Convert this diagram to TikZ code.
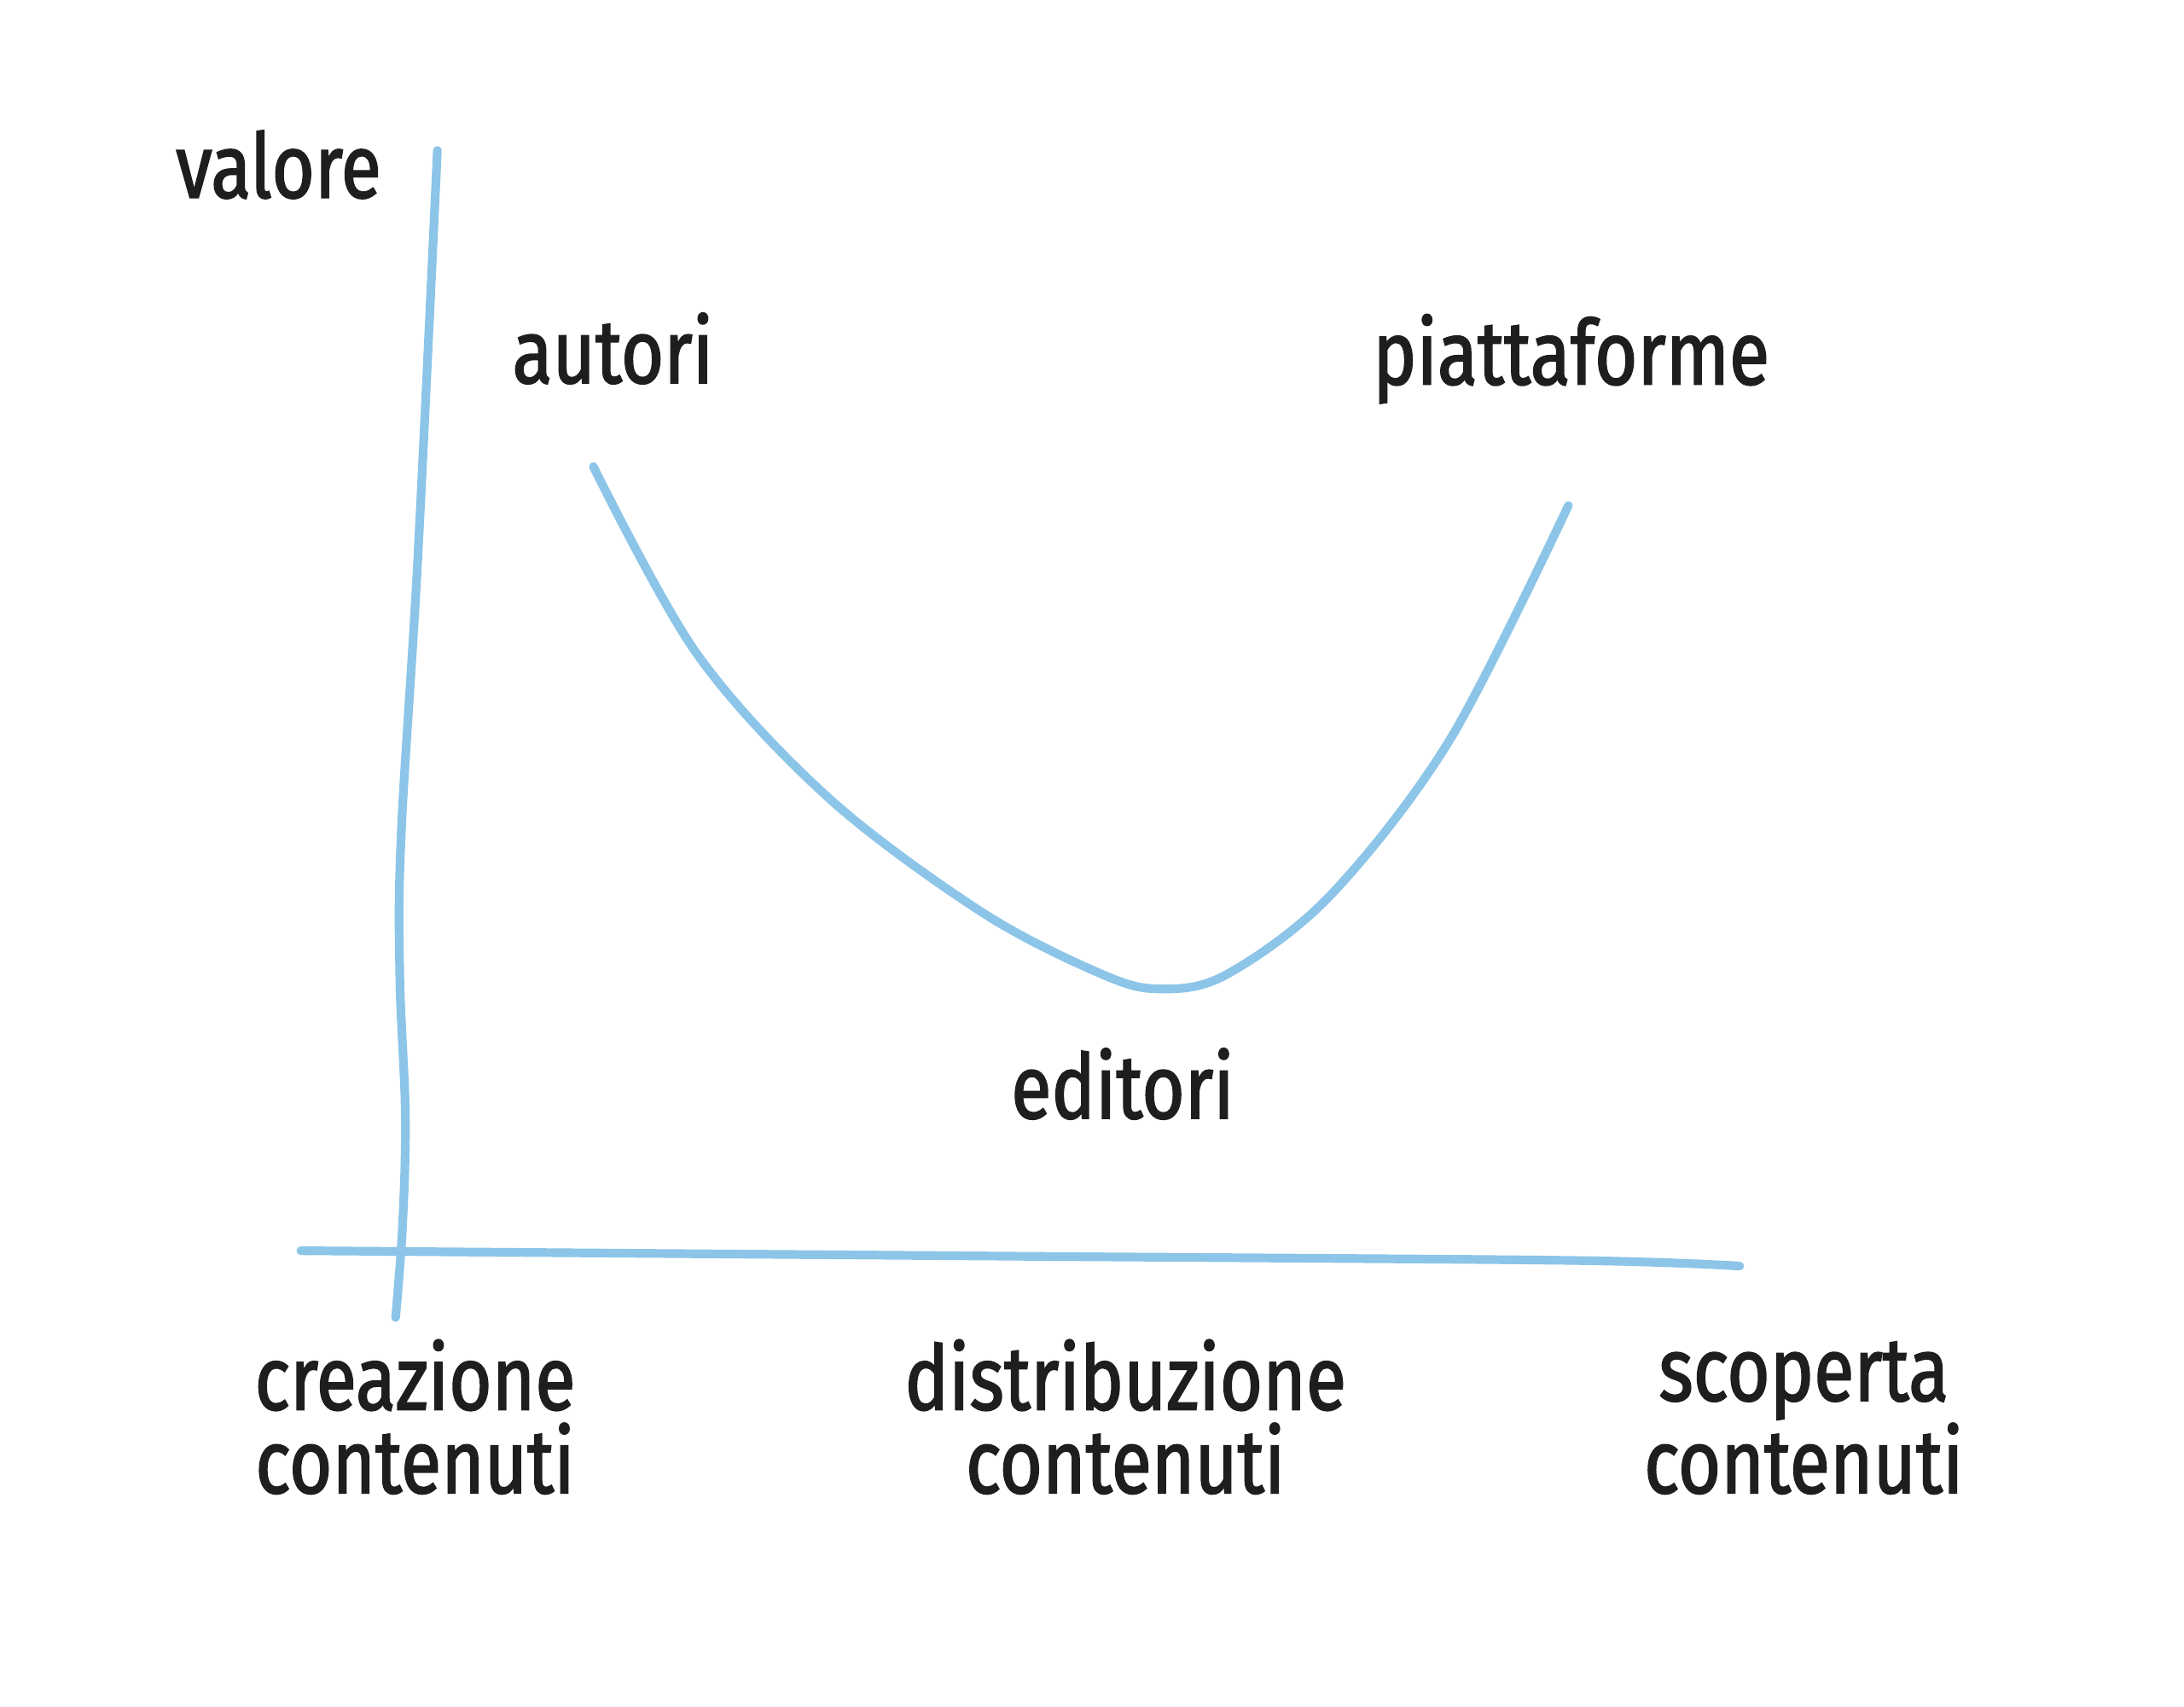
\documentclass[tikz,border=0pt]{standalone}
\usepackage{fontspec}
\setmainfont{Fira Sans}[FakeStretch=0.82, FakeBold=1.6]
\definecolor{axisblue}{HTML}{8CC5E8}
\definecolor{inkdark}{HTML}{1E1E1E}
\begin{document}
\begin{tikzpicture}
\tikzset{
  sketch/.style={draw=axisblue, line width=2.9pt, line cap=round, line join=round},
  lbl/.style={text=inkdark, font=\fontsize{30}{27.8}\selectfont, anchor=base, align=center, inner sep=0pt}
}
\useasboundingbox[fill=white] (0,0) rectangle (25.6,20);
% coordinates below are given in pixels of the 1568x1225 view
\begin{scope}[shift={(0cm,20cm)}, x=0.016327cm, y=-0.016327cm]
% axes
\coordinate (ytop) at (314,108);
\coordinate (ybot) at (284,946);
\coordinate (xl) at (216,898);
\coordinate (xr) at (1249,909);
\draw[sketch] plot[smooth, tension=0.6] coordinates {(ytop) (300,400) (288,600) (287,700) (291,800) (289,880) (ybot)};
\draw[sketch] plot[smooth, tension=0.5] coordinates {(xl) (735,902) (1130,905) (xr)};
% value curve
\coordinate (cs) at (426,335);
\coordinate (cm) at (832,710);
\coordinate (ce) at (1126,363);
\draw[sketch] plot[smooth, tension=0.55] coordinates {(cs) (500,469) (595,573) (705,655) (790,699) (cm) (880,700) (955,643) (1041,531) (ce)};
% labels
\node[lbl] (valore) at (200,142) {valore};
\node[lbl] (autori) at (440,275) {autori};
\node[lbl] (piatt) at (1128,276) {piattaforme};
\node[lbl] (editori) at (806,803) {editori};
\node[lbl] (crea) at (298,1072) {creazione\\contenuti};
\node[lbl] (distr) at (808,1072) {distribuzione\\contenuti};
\node[lbl] (scop) at (1295,1072) {scoperta\\contenuti};
\end{scope}
\end{tikzpicture}
\end{document}
